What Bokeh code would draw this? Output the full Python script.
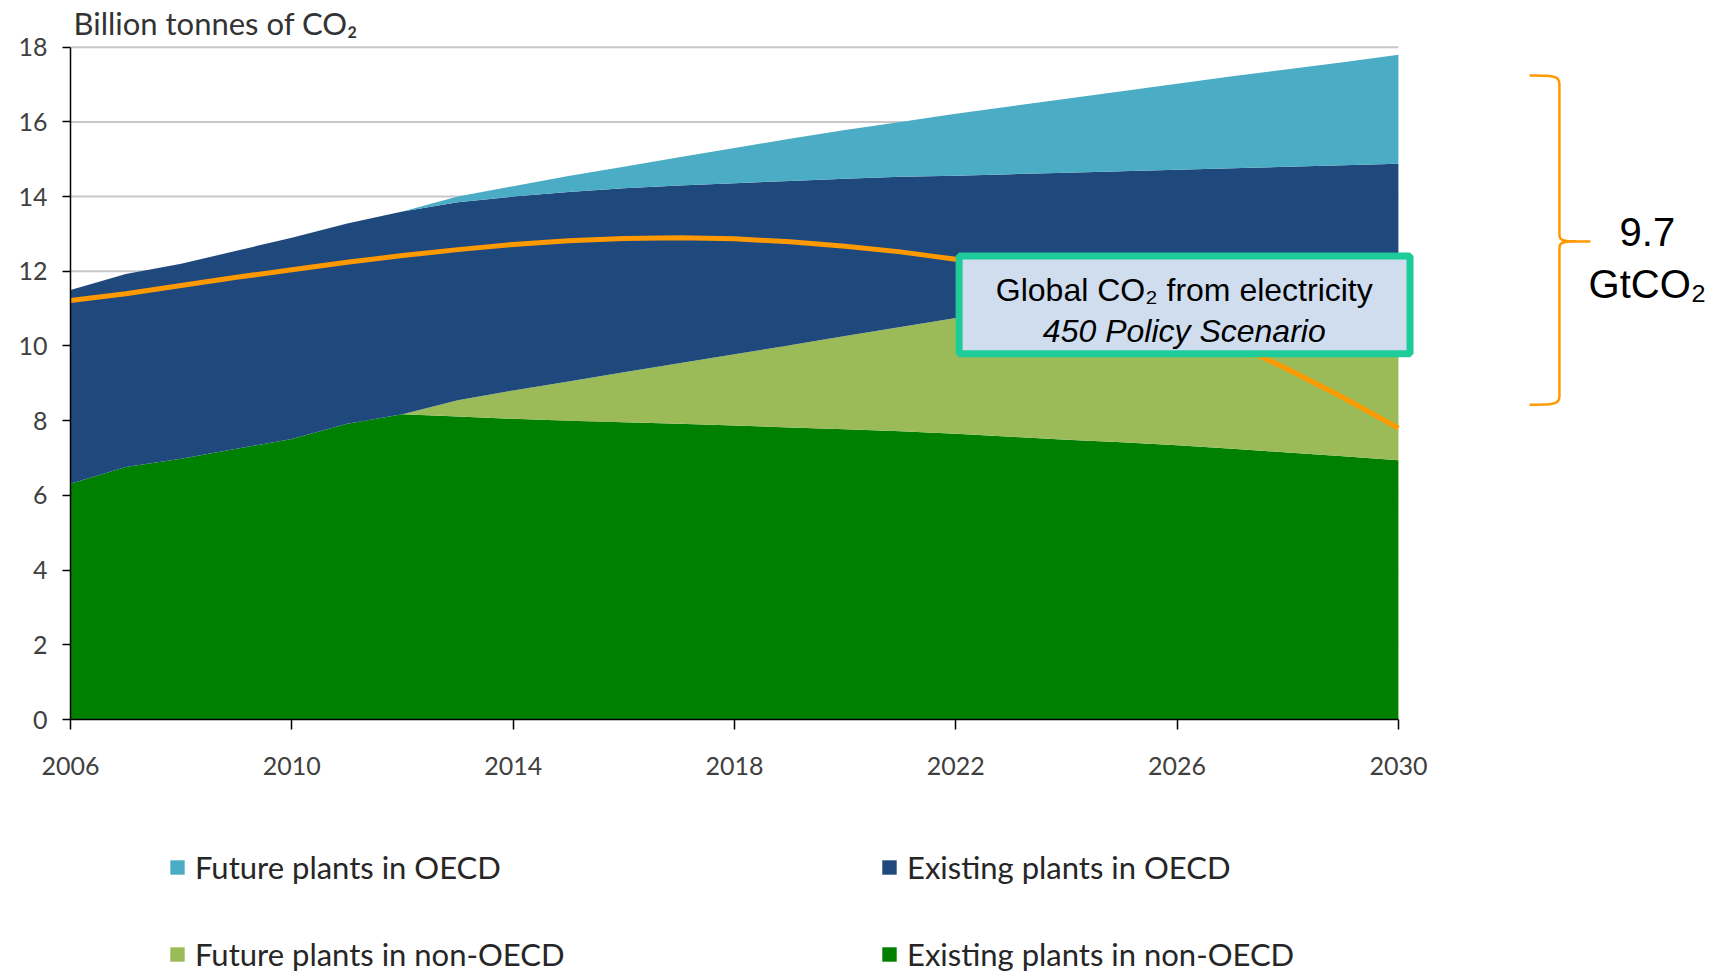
import numpy as np
from bokeh.plotting import figure
from bokeh.layouts import column
from bokeh.models import (ColumnDataSource, FixedTicker, Label, BoxAnnotation,
                          PolyAnnotation, Legend, LegendItem, Range1d)
from bokeh.embed import file_html
from bokeh.resources import INLINE

# ---------------- data ----------------
years = list(range(2006, 2031))
existing_non_oecd = [6.31, 6.76, 6.98, 7.25, 7.51, 7.92, 8.17, 8.11, 8.05, 8.00, 7.96, 7.92, 7.87,
                     7.82, 7.77, 7.72, 7.65, 7.57, 7.49, 7.42, 7.34, 7.25, 7.15, 7.05, 6.94]
future_non_oecd = [0, 0, 0, 0, 0, 0, 0, 0.44, 0.76, 1.05, 1.34, 1.62, 1.91,
                   2.20, 2.50, 2.79, 3.10, 3.40, 3.69, 3.97, 4.26, 4.55, 4.85, 5.13, 5.41]
existing_oecd = [5.19, 5.17, 5.22, 5.30, 5.39, 5.36, 5.43, 5.30, 5.19, 5.07, 4.92, 4.76, 4.58,
                 4.40, 4.21, 4.02, 3.81, 3.63, 3.46, 3.29, 3.12, 2.96, 2.80, 2.66, 2.53]
future_oecd = [0, 0, 0, 0, 0, 0, 0, 0.15, 0.28, 0.43, 0.58, 0.75, 0.94,
               1.13, 1.30, 1.47, 1.66, 1.82, 1.98, 2.14, 2.30, 2.46, 2.61, 2.76, 2.92]
policy_450 = [11.22, 11.40, 11.62, 11.84, 12.04, 12.24, 12.42, 12.58, 12.72, 12.82, 12.88, 12.90, 12.87,
              12.79, 12.67, 12.52, 12.32, 12.02, 11.65, 11.20, 10.68, 10.08, 9.38, 8.62, 7.80]

series_keys = ["eno", "fno", "eo", "fo"]
series_labels = ["Existing plants in non-OECD", "Future plants in non-OECD",
                 "Existing plants in OECD", "Future plants in OECD"]
series_colors = ["#008000", "#9BBB59", "#1F497D", "#4BACC6"]
legend_order = ["fo", "eo", "fno", "eno"]
y_ticks = [0, 2, 4, 6, 8, 10, 12, 14, 16, 18]
x_ticks = [2006, 2010, 2014, 2018, 2022, 2026, 2030]
x_start, x_end = 2006, 2030

source = ColumnDataSource(dict(year=years, eno=existing_non_oecd, fno=future_non_oecd,
                               eo=existing_oecd, fo=future_oecd, p450=policy_450))

# ---------------- main figure ----------------
W = 1731
p = figure(width=W, height=809, x_range=Range1d(2006, 2036.02), y_range=Range1d(0, 19.25),
           output_backend="svg", toolbar_location=None,
           min_border_left=70, min_border_right=0, min_border_top=0, min_border_bottom=90)
p.outline_line_color = None
p.background_fill_color = "white"
p.border_fill_color = "white"
p.xgrid.visible = False
p.ygrid.visible = False

# horizontal gridlines (only across the data span)
p.segment(x0=[x_start] * len(y_ticks), x1=[x_end] * len(y_ticks), y0=y_ticks, y1=y_ticks,
          line_color="#C8C8C8", line_width=2)

areas = p.varea_stack(series_keys, x="year", color=series_colors, source=source)
p.line("year", "p450", source=source, line_color="#FF9900", line_width=5)

for ax, ticks, tout in ((p.xaxis[0], x_ticks, 10), (p.yaxis[0], y_ticks, 8)):
    ax.ticker = FixedTicker(ticks=ticks)
    ax.major_tick_out = tout
    ax.major_tick_in = 0
    ax.minor_tick_line_color = None
    ax.axis_line_color = "black"
    ax.axis_line_width = 1.5
    ax.major_tick_line_color = "black"
    ax.major_tick_line_width = 1.5
    ax.major_label_text_font = "Lato"
    ax.major_label_text_font_size = "25px"
    ax.major_label_text_color = "#404040"
p.xaxis.bounds = (x_start, x_end)
p.yaxis.bounds = (0, 18)
p.xaxis.major_label_standoff = 27
p.yaxis.major_label_standoff = 15

# axis title
p.add_layout(Label(x=2006, y=18.66, x_offset=3, text="Billion tonnes of CO₂",
                   text_font="Lato", text_font_size="31px", text_color="#333333",
                   text_align="left", text_baseline="middle"))

# annotation box
p.add_layout(BoxAnnotation(left=2022.06, right=2030.21, top=12.41, bottom=9.79,
                           fill_color="#CFDDEE", fill_alpha=1.0,
                           line_color="#1ECC9A", line_alpha=1.0, line_width=7))
p.add_layout(Label(x=2026.13, y=11.49, text="Global CO₂ from electricity",
                   text_font="Liberation Sans", text_font_size="32px", text_color="black",
                   text_align="center", text_baseline="middle"))
p.add_layout(Label(x=2026.13, y=10.41, text="450 Policy Scenario",
                   text_font="Liberation Sans", text_font_size="32px", text_color="black",
                   text_font_style="italic", text_align="center", text_baseline="middle"))

# brace on the right
brace_arm, brace_stem, brace_tip = 2032.37, 2032.91, 2033.47
brace_top, brace_mid, brace_bottom = 17.24, 12.80, 8.43
dy = 0.25


def bez(p0, p1, p2, p3, n=12):
    t = np.linspace(0, 1, n)[:, None]
    pts = ((1 - t) ** 3) * np.array(p0) + 3 * ((1 - t) ** 2) * t * np.array(p1) \
        + 3 * (1 - t) * t ** 2 * np.array(p2) + t ** 3 * np.array(p3)
    return pts.tolist()


path = []
path += bez((brace_arm, brace_top), (brace_stem - 0.1, brace_top), (brace_stem, brace_top),
            (brace_stem, brace_top - dy))
path += bez((brace_stem, brace_mid + dy), (brace_stem, brace_mid), (brace_stem, brace_mid),
            (brace_tip, brace_mid))
path += bez((brace_tip, brace_mid), (brace_stem, brace_mid), (brace_stem, brace_mid),
            (brace_stem, brace_mid - dy))
path += bez((brace_stem, brace_bottom + dy), (brace_stem, brace_bottom),
            (brace_stem - 0.1, brace_bottom), (brace_arm, brace_bottom))
full = path + path[::-1]
p.add_layout(PolyAnnotation(xs=[q[0] for q in full], ys=[q[1] for q in full],
                            fill_color=None, fill_alpha=0, line_color="#FF9900",
                            line_alpha=1.0, line_width=2.5))
p.add_layout(Label(x=2034.5, y=13.04, text="9.7", text_font="Liberation Sans",
                   text_font_size="40px", text_color="black",
                   text_align="center", text_baseline="middle"))
p.add_layout(Label(x=2034.5, y=11.67, text="GtCO₂", text_font="Liberation Sans",
                   text_font_size="40px", text_color="black",
                   text_align="center", text_baseline="middle"))

# ---------------- legend strip ----------------
pl = figure(width=W, height=164, x_range=Range1d(0, 1), y_range=Range1d(0, 1),
            x_axis_type=None, y_axis_type=None, output_backend="svg", toolbar_location=None,
            min_border_left=0, min_border_right=0, min_border_top=0, min_border_bottom=0)
pl.outline_line_color = None
pl.xgrid.visible = False
pl.ygrid.visible = False
proxy = {}
for k, c in zip(series_keys, series_colors):
    # zero-area proxy renderers, used only for the legend swatches
    proxy[k] = pl.varea(x=[0, 0.001], y1=[0, 0], y2=[0, 0], fill_color=c)
labels = dict(zip(series_keys, series_labels))
items = [LegendItem(label=labels[k], renderers=[proxy[k]]) for k in legend_order]
legend = Legend(items=items, location=(98, 0), orientation="horizontal", ncols=2,
                glyph_width=18, glyph_height=18, label_standoff=9, label_width=636,
                label_height=38, spacing=49, padding=0, margin=0,
                border_line_color=None, background_fill_alpha=0,
                label_text_font="Lato", label_text_font_size="31px",
                label_text_color="#262626")
pl.add_layout(legend, "center")

layout = column(p, pl, spacing=0)
open("out.html", "w").write(file_html(layout, INLINE))
